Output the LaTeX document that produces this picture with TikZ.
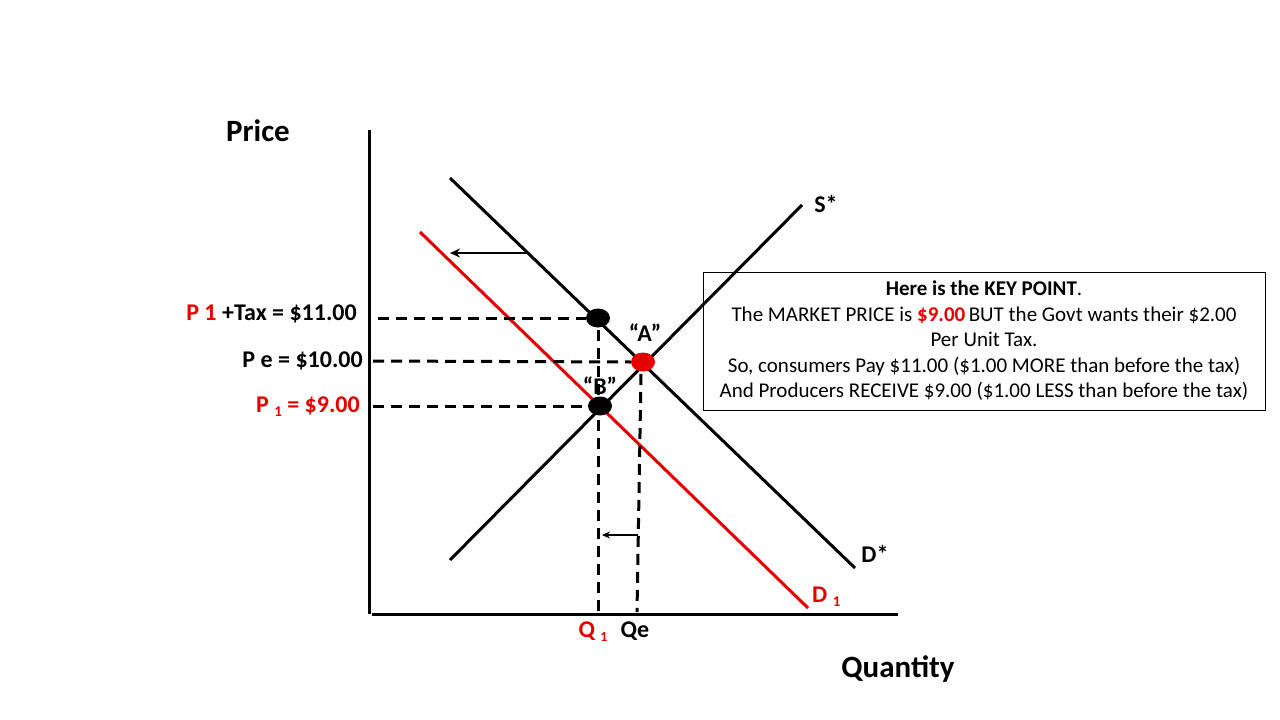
\documentclass[tikz,border=0pt]{standalone}
\usepackage{fontspec}
\setmainfont{Carlito}
\usetikzlibrary{arrows.meta,shapes.geometric}
\definecolor{myred}{RGB}{230,0,0}
\begin{document}
\begin{tikzpicture}[x=1pt,y=-1pt,
  curve/.style={line width=3pt},
  redcurve/.style={line width=3pt,draw=myred},
  dashline/.style={line width=3pt,dash pattern=on 11pt off 7pt},
  dot/.style={ellipse,minimum width=24pt,minimum height=19pt,inner sep=0pt},
  lbl/.style={font=\bfseries\fontsize{24}{28}\selectfont,inner sep=0pt},
  ttl/.style={font=\bfseries\fontsize{31}{36}\selectfont,inner sep=0pt},
  arr/.style={line width=2.4pt,-{Stealth[length=10pt,width=9pt]}},
]
\useasboundingbox (0,0) rectangle (1280,720);
% axes
\coordinate (yt) at (369,130);
\coordinate (o) at (369,614);
\coordinate (x0) at (372,614);
\coordinate (xr) at (898,614);
\draw[curve] (yt) -- (o);
\draw[curve] (x0) -- (xr);
% curves
\coordinate (d0) at (450,178);
\coordinate (d1) at (855,568);
\coordinate (s0) at (450,560);
\coordinate (s1) at (802,205);
\coordinate (r0) at (420,232);
\coordinate (r1) at (808,608);
\draw[curve] (d0) -- (d1);
\draw[curve] (s0) -- (s1);
\draw[redcurve] (r0) -- (r1);
% shift arrow
\coordinate (sa0) at (527,253);
\coordinate (sa1) at (450,253);
\draw[arr] (sa0) -- (sa1);
% dashed lines
\coordinate (h1) at (378,318);
\coordinate (h2) at (373,361);
\coordinate (h3) at (373,406);
\coordinate (v1) at (598,612);
\coordinate (v2) at (637,612);
\coordinate (vt1) at (598,330);
\coordinate (vt2) at (641,374);
\node[dot,fill=black] (T) at (598,318) {};
\node[dot,fill=myred] (A) at (643,362) {};
\node[dot,fill=black] (B) at (600,406) {};
\draw[dashline] (h1) -- (T.west);
\draw[dashline] (h2) -- (A.west);
\draw[dashline] (h3) -- (B.west);
\draw[dashline] (vt1) -- (v1);
\draw[dashline] (vt2) -- (v2);
\coordinate (qa0) at (638,535);
\coordinate (qa1) at (602,535);
\draw[line width=1.8pt,-{Stealth[length=8pt,width=7pt]}] (qa0) -- (qa1);
% labels
\node[ttl] (price) at (258,131) {Price};
\node[ttl] (qty) at (898,669) {Quantity};
\node[lbl,anchor=east] (l1) at (357,314) {\textcolor{myred}{P 1} +Tax = \$11.00};
\node[lbl,anchor=east] (l2) at (363,361) {P e = \$10.00};
\node[lbl,anchor=east,text=myred] (l3) at (360,407) {P \raisebox{-0.35ex}{\fontsize{15}{16}\selectfont 1} = \$9.00};
\node[lbl] (la) at (645,333) {“A”};
\node[lbl] (lb) at (600,386) {“B”};
\node[lbl] (ls) at (826,204) {S*};
\node[lbl] (ld) at (875,554) {D*};
\node[lbl,text=myred,anchor=west] (ld1) at (812,597) {D \raisebox{-0.35ex}{\fontsize{15}{16}\selectfont 1}};
\node[lbl,text=myred] (lq1) at (593,632) {Q \raisebox{-0.35ex}{\fontsize{14}{15}\selectfont 1}};
\node[lbl] (lqe) at (635,631) {Qe};
% box
\node[draw,line width=1pt,minimum width=562pt,minimum height=138pt,anchor=north west,inner sep=0pt] (box) at (703,272) {};
\node[align=center,font=\fontsize{21}{25.5}\selectfont,inner sep=0pt] (boxtext) at (984,341) {%
\textbf{Here is the KEY POINT}.\\
The MARKET PRICE is \textcolor{myred}{\textbf{\$9.00}}\,BUT the Govt wants their \$2.00\\
Per Unit Tax.\\
So, consumers Pay \$11.00 (\$1.00 MORE than before the tax)\\
And Producers RECEIVE \$9.00 (\$1.00 LESS than before the tax)};
\end{tikzpicture}
\end{document}
